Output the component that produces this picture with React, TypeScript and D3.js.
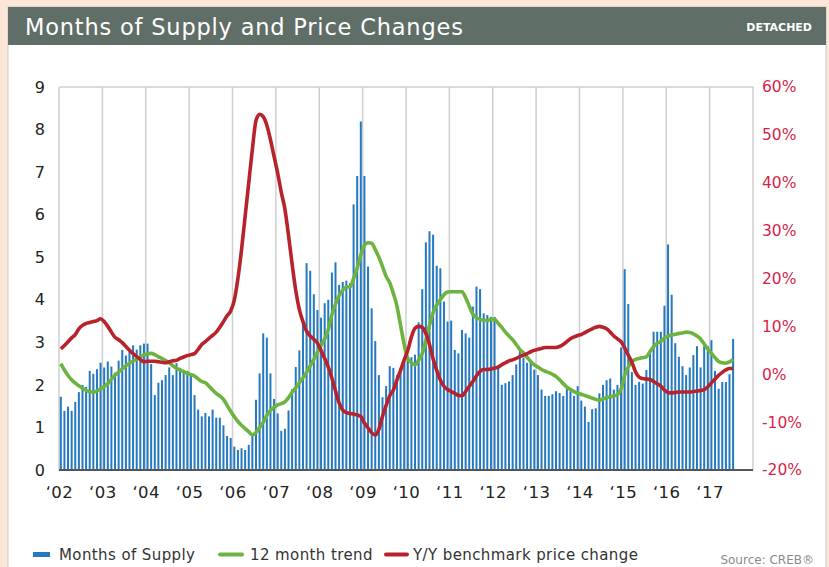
import React, { useEffect, useRef } from "react";
import * as d3 from "d3";

// monthly data, Jan 2002 .. Jul 2017
const yearLabels = ["‘02", "‘03", "‘04", "‘05", "‘06", "‘07", "‘08", "‘09", "‘10", "‘11", "‘12", "‘13", "‘14", "‘15", "‘16", "‘17"];

const monthsOfSupply = [
  1.72, 1.39, 1.49, 1.39, 1.6, 1.83, 2.0, 1.95, 2.33, 2.26, 2.37, 2.52,
  2.41, 2.55, 2.43, 2.29, 2.57, 2.82, 2.69, 2.79, 2.93, 2.83, 2.93, 2.97,
  2.97, 2.49, 1.76, 2.05, 2.11, 2.23, 2.41, 2.23, 2.51, 2.4, 2.35, 2.33,
  2.27, 1.76, 1.42, 1.26, 1.34, 1.26, 1.42, 1.23, 1.23, 1.05, 0.8, 0.75,
  0.55, 0.47, 0.51, 0.47, 0.59, 0.8, 1.65, 2.27, 3.21, 3.11, 2.27, 1.67,
  1.33, 0.92, 0.97, 1.4, 1.9, 2.42, 2.81, 3.47, 4.86, 4.68, 4.13, 3.76,
  3.58, 3.92, 4.0, 4.64, 4.88, 4.35, 4.42, 4.45, 4.39, 6.24, 6.91, 8.19,
  6.91, 4.78, 3.8, 3.03, 2.23, 1.71, 1.97, 2.44, 2.4, 2.23, 2.4, 2.6,
  2.67, 2.65, 2.71, 3.47, 4.25, 5.35, 5.61, 5.53, 4.8, 4.74, 3.96, 3.49,
  3.51, 2.82, 2.74, 3.29, 3.21, 3.11, 3.84, 4.31, 4.25, 3.68, 3.64, 3.6,
  3.6, 2.45, 2.0, 2.04, 2.08, 2.23, 2.48, 2.8, 2.64, 2.52, 2.52, 2.36,
  2.23, 1.89, 1.74, 1.74, 1.78, 1.85, 1.81, 1.74, 1.91, 1.85, 1.74, 1.97,
  1.63, 1.49, 1.13, 1.43, 1.45, 1.8, 2.0, 2.11, 2.15, 1.89, 2.0, 2.88,
  4.72, 3.9, 2.3, 2.0, 2.07, 2.03, 2.35, 2.78, 3.25, 3.25, 3.25, 3.86,
  5.3, 4.12, 2.98, 2.66, 2.44, 2.23, 2.41, 2.7, 2.91, 2.41, 2.91, 2.91,
  3.05, 2.33, 1.91, 2.07, 2.07, 2.25, 3.08,
];

const trend12 = [
  2.5, 2.35, 2.22, 2.12, 2.04, 1.98, 1.92, 1.87, 1.84, 1.83, 1.86, 1.9,
  1.96, 2.03, 2.13, 2.23, 2.3, 2.38, 2.45, 2.51, 2.56, 2.61, 2.66, 2.7,
  2.73, 2.74, 2.71, 2.66, 2.62, 2.57, 2.52, 2.45, 2.39, 2.35, 2.31, 2.27,
  2.24, 2.21, 2.14, 2.08, 2.05, 1.97, 1.88, 1.8, 1.74, 1.66, 1.52, 1.38,
  1.25, 1.14, 1.05, 0.97, 0.9, 0.83, 0.88, 1.0, 1.12, 1.28, 1.4, 1.47,
  1.53, 1.56, 1.6, 1.7, 1.83, 1.93, 2.05, 2.17, 2.3, 2.45, 2.6, 2.77,
  2.93, 3.08, 3.3, 3.65, 3.9, 4.1, 4.22, 4.3, 4.3, 4.5, 4.75, 5.05,
  5.28, 5.34, 5.33, 5.18, 5.0, 4.78, 4.55, 4.4, 4.15, 3.85, 3.4, 2.95,
  2.62, 2.52, 2.47, 2.58, 2.74, 3.05, 3.4, 3.7, 3.88, 4.0, 4.12, 4.18,
  4.19, 4.19, 4.19, 4.19, 4.05, 3.85, 3.66, 3.58, 3.54, 3.52, 3.51, 3.54,
  3.54, 3.45, 3.35, 3.24, 3.15, 3.06, 2.95, 2.83, 2.75, 2.65, 2.55, 2.47,
  2.42, 2.36, 2.32, 2.29, 2.25, 2.2, 2.12, 2.03, 1.95, 1.89, 1.84, 1.8,
  1.78, 1.75, 1.72, 1.69, 1.66, 1.64, 1.67, 1.7, 1.72, 1.74, 1.77, 1.9,
  2.22, 2.42, 2.55, 2.6, 2.62, 2.64, 2.66, 2.78, 2.9, 2.98, 3.02, 3.1,
  3.14, 3.17, 3.19, 3.21, 3.22, 3.24, 3.23, 3.2, 3.15, 3.08, 2.96, 2.84,
  2.74, 2.64, 2.55, 2.52, 2.51, 2.54, 2.6,
];

const priceChange = [
  5.3, 6.0, 6.8, 7.6, 8.3, 9.5, 10.2, 10.6, 10.8, 11.0, 11.2, 11.6,
  11.0, 10.0, 8.8, 7.7, 7.2, 6.6, 5.8, 5.0, 4.3, 3.7, 3.1, 2.6,
  2.7, 2.7, 2.7, 2.6, 2.5, 2.4, 2.6, 2.8, 2.9, 3.3, 3.6, 3.9,
  4.1, 4.3, 5.2, 6.2, 6.8, 7.5, 8.1, 8.8, 9.8, 11.0, 12.2, 13.2,
  15.5, 20.0, 26.0, 33.0, 40.0, 47.0, 53.0, 54.3, 53.8, 52.0, 49.0, 45.5,
  42.0, 38.0, 34.5, 29.0, 23.0, 17.5, 13.5, 11.0, 9.0, 8.0, 7.3, 6.5,
  5.0, 3.3, 1.5, -0.8, -3.5, -6.0, -7.5, -8.0, -8.2, -8.3, -8.5, -8.8,
  -10.2, -11.2, -12.2, -12.7, -11.5, -8.8, -6.5, -4.5, -3.3, -1.2, 0.8, 3.0,
  5.0, 7.8, 9.6, 10.0, 9.8, 8.5, 6.2, 3.2, 0.8, -1.2, -2.5, -3.2,
  -3.6, -4.0, -4.4, -4.5, -3.6, -2.5, -1.5, -0.3, 0.6, 1.0, 1.0, 1.1,
  1.3, 1.5, 2.0, 2.4, 2.8, 3.0, 3.3, 3.7, 4.0, 4.3, 4.7, 5.0,
  5.2, 5.4, 5.6, 5.6, 5.6, 5.6, 5.8, 6.2, 6.8, 7.4, 7.8, 8.1,
  8.3, 8.7, 9.1, 9.5, 9.8, 10.0, 9.8, 9.5, 8.8, 8.0, 7.4, 6.8,
  5.5, 4.0, 2.5, 0.5, -0.6, -0.9, -1.0, -1.1, -1.5, -2.0, -2.5, -3.3,
  -3.8, -3.9, -3.8, -3.7, -3.7, -3.7, -3.7, -3.6, -3.5, -3.4, -3.2, -2.6,
  -1.8, -1.0, -0.2, 0.4, 0.9, 1.2, 1.2,
];

const supplyTicks = [0, 1, 2, 3, 4, 5, 6, 7, 8, 9];
const priceTicks = [-20, -10, 0, 10, 20, 30, 40, 50, 60];
const legendLabels = ["Months of Supply", "12 month trend", "Y/Y benchmark price change"];

const BLUE = "#2479c0";
const GREEN = "#6cb33f";
const RED = "#b8232b";
const FONT = "'DejaVu Sans', sans-serif";

export default function App() {
  const ref = useRef<SVGSVGElement>(null);

  useEffect(() => {
    const svg = d3.select(ref.current);
    svg.selectAll("*").remove();

    const W = 829;
    const H = 567;
    const m = { left: 59, right: 753, top: 87, bottom: 470 };

    // background + panel
    svg.append("rect").attr("width", W).attr("height", H).attr("fill", "#fce6d6");
    svg.append("rect").attr("x", 8).attr("y", 7).attr("width", 818).attr("height", H)
      .attr("fill", "#fff").attr("stroke", "#c9c9c9");
    svg.append("rect").attr("x", 8).attr("y", 7).attr("width", 818).attr("height", 38)
      .attr("fill", "#5f6e66");
    svg.append("text").attr("x", 25).attr("y", 35).text("Months of Supply and Price Changes")
      .attr("fill", "#fff").attr("font-family", FONT).attr("font-size", 22.5)
      .attr("letter-spacing", 0.8);
    svg.append("text").attr("x", 812).attr("y", 31).text("DETACHED")
      .attr("text-anchor", "end").attr("fill", "#fff").attr("font-family", FONT)
      .attr("font-size", 11).attr("font-weight", 700);

    const nMonths = yearLabels.length * 12;
    const x = d3.scaleLinear().domain([0, nMonths]).range([m.left, m.right]);
    const yL = d3.scaleLinear().domain([0, 9]).range([m.bottom, m.top]);
    const yR = d3.scaleLinear().domain([-20, 60]).range([m.bottom, m.top]);

    const g = svg.append("g");

    // year gridlines and frame
    g.selectAll(".grid")
      .data(d3.range(0, nMonths + 1, 12))
      .enter()
      .append("line")
      .attr("x1", (d) => x(d)).attr("x2", (d) => x(d))
      .attr("y1", m.top).attr("y2", m.bottom)
      .attr("stroke", "#cfcfcf").attr("stroke-width", 1.5);
    g.append("line").attr("x1", m.left).attr("x2", m.right).attr("y1", m.top).attr("y2", m.top)
      .attr("stroke", "#cfcfcf").attr("stroke-width", 1.5);

    // bars
    g.selectAll(".bar")
      .data(monthsOfSupply)
      .enter()
      .append("rect")
      .attr("x", (d, i) => x(i) + 0.8)
      .attr("y", (d) => yL(d))
      .attr("width", 2)
      .attr("height", (d) => yL(0) - yL(d))
      .attr("fill", BLUE);

    // bottom axis line
    g.append("line").attr("x1", m.left).attr("x2", m.right).attr("y1", m.bottom).attr("y2", m.bottom)
      .attr("stroke", "#555").attr("stroke-width", 2);

    const line = (yScale: any) =>
      d3.line<number>().x((d, i) => x(i) + 1.8).y((d) => yScale(d)).curve(d3.curveMonotoneX);

    g.append("path").datum(trend12).attr("d", line(yL)).attr("fill", "none")
      .attr("stroke", GREEN).attr("stroke-width", 3.6).attr("stroke-linejoin", "round");
    g.append("path").datum(priceChange).attr("d", line(yR)).attr("fill", "none")
      .attr("stroke", RED).attr("stroke-width", 3.6).attr("stroke-linejoin", "round");

    // axes
    const left = g.append("g").attr("transform", `translate(${45},0)`)
      .call(d3.axisLeft(yL).tickValues(supplyTicks).tickSize(0).tickPadding(0));
    left.select(".domain").remove();
    left.selectAll("text").attr("font-family", FONT).attr("font-size", 16).attr("fill", "#222");

    const right = g.append("g").attr("transform", `translate(${762},0)`)
      .call(d3.axisRight(yR).tickValues(priceTicks).tickSize(0).tickPadding(0).tickFormat((d: any) => `${d}%`));
    right.select(".domain").remove();
    right.selectAll("text").attr("font-family", FONT).attr("font-size", 15.5).attr("fill", "#d81f4a");

    const bottom = g.append("g").attr("transform", `translate(0,${m.bottom})`)
      .call(d3.axisBottom(x).tickValues(d3.range(0, nMonths, 12)).tickSize(0).tickPadding(16)
        .tickFormat((d: any) => yearLabels[d / 12]));
    bottom.select(".domain").remove();
    bottom.selectAll("text").attr("font-family", FONT).attr("font-size", 16.5).attr("fill", "#222")
      .attr("letter-spacing", 0.5);

    // legend
    const lg = svg.append("g").attr("font-family", FONT).attr("font-size", 15).attr("fill", "#333")
      .attr("letter-spacing", 0.4);
    lg.append("rect").attr("x", 33).attr("y", 552).attr("width", 17).attr("height", 5).attr("fill", BLUE);
    lg.append("text").attr("x", 59).attr("y", 560).text(legendLabels[0]);
    lg.append("line").attr("x1", 220).attr("x2", 242).attr("y1", 554.5).attr("y2", 554.5)
      .attr("stroke", GREEN).attr("stroke-width", 4).attr("stroke-linecap", "round");
    lg.append("text").attr("x", 250).attr("y", 560).text(legendLabels[1]);
    lg.append("line").attr("x1", 386).attr("x2", 407).attr("y1", 554.5).attr("y2", 554.5)
      .attr("stroke", RED).attr("stroke-width", 4).attr("stroke-linecap", "round");
    lg.append("text").attr("x", 413).attr("y", 560).text(legendLabels[2]);
    svg.append("text").attr("x", 814).attr("y", 564).attr("text-anchor", "end")
      .attr("font-family", FONT).attr("font-size", 12).attr("fill", "#8a8a8a").text("Source: CREB®");
  }, []);

  return (
    <div style={{ position: "absolute", left: 0, top: 0 }}>
      <svg ref={ref} width={829} height={567} style={{ display: "block" }} />
    </div>
  );
}
